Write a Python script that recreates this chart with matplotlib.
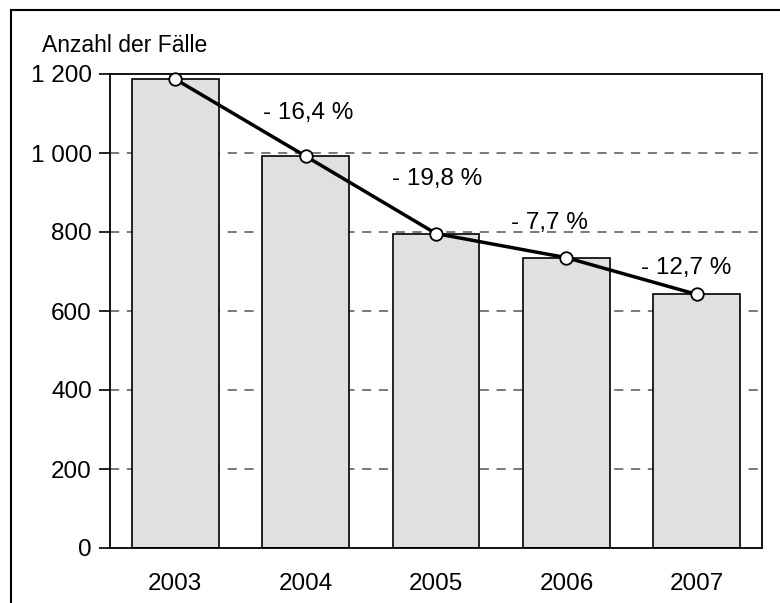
import numpy as np
import matplotlib.pyplot as plt
from matplotlib.lines import Line2D

plt.rcParams['font.family'] = ['Liberation Sans', 'DejaVu Sans']

years = ['2003', '2004', '2005', '2006', '2007']
cases = [1187, 992, 796, 735, 642]
changes = ['- 16,4 %', '- 19,8 %', '- 7,7 %', '- 12,7 %']
yticks = [0, 200, 400, 600, 800, 1000, 1200]
ytick_labels = ['0', '200', '400', '600', '800', '1 000', '1 200']

# label placement (x in category units, y in data units)
label_x = [1.02, 2.01, 2.87, 3.92]
label_y = [1101, 934, 823, 709]

fig = plt.figure(figsize=(7.8, 6.03), dpi=100)
ax = fig.add_axes([110 / 780, 1 - 548 / 603, 652 / 780, 474 / 603])

x = np.arange(len(years))
ax.bar(x, cases, width=0.667, color='#e0e0e0', edgecolor='black', linewidth=1.2, zorder=2)
ax.plot(x, cases, color='black', lw=2.5, marker='o', ms=9, mfc='white', mec='black',
        mew=1.3, zorder=4, clip_on=False)

for lx, ly, t in zip(label_x, label_y, changes):
    ax.text(lx, ly, t, ha='center', va='center', fontsize=17.5, zorder=5)

ax.set_xlim(-0.5, 4.5)
ax.set_ylim(0, 1200)
ax.set_yticks(yticks)
ax.set_yticklabels(ytick_labels, fontsize=17.5)
ax.set_xticks(x)
ax.set_xticklabels(years, fontsize=17.5)
ax.tick_params(axis='y', direction='out', length=8, width=1.2, pad=5)
ax.tick_params(axis='x', length=0, pad=18)
for yv in yticks[1:-1]:
    ax.axhline(yv, color='#555555', lw=1.1, ls=(0, (6, 5)), zorder=1)
for s in ax.spines.values():
    s.set_linewidth(1.3)

fig.text(42 / 780, 1 - 46 / 603, 'Anzahl der Fälle', fontsize=16.5, ha='left', va='center')

# outer frame (top and left edges)
fig.add_artist(Line2D([11 / 780, 11 / 780], [0, 1 - 10 / 603], color='black', lw=1.5,
                      transform=fig.transFigure))
fig.add_artist(Line2D([11 / 780, 1], [1 - 10 / 603, 1 - 10 / 603], color='black', lw=1.5,
                      transform=fig.transFigure))

fig.savefig('out.png', dpi=100)
